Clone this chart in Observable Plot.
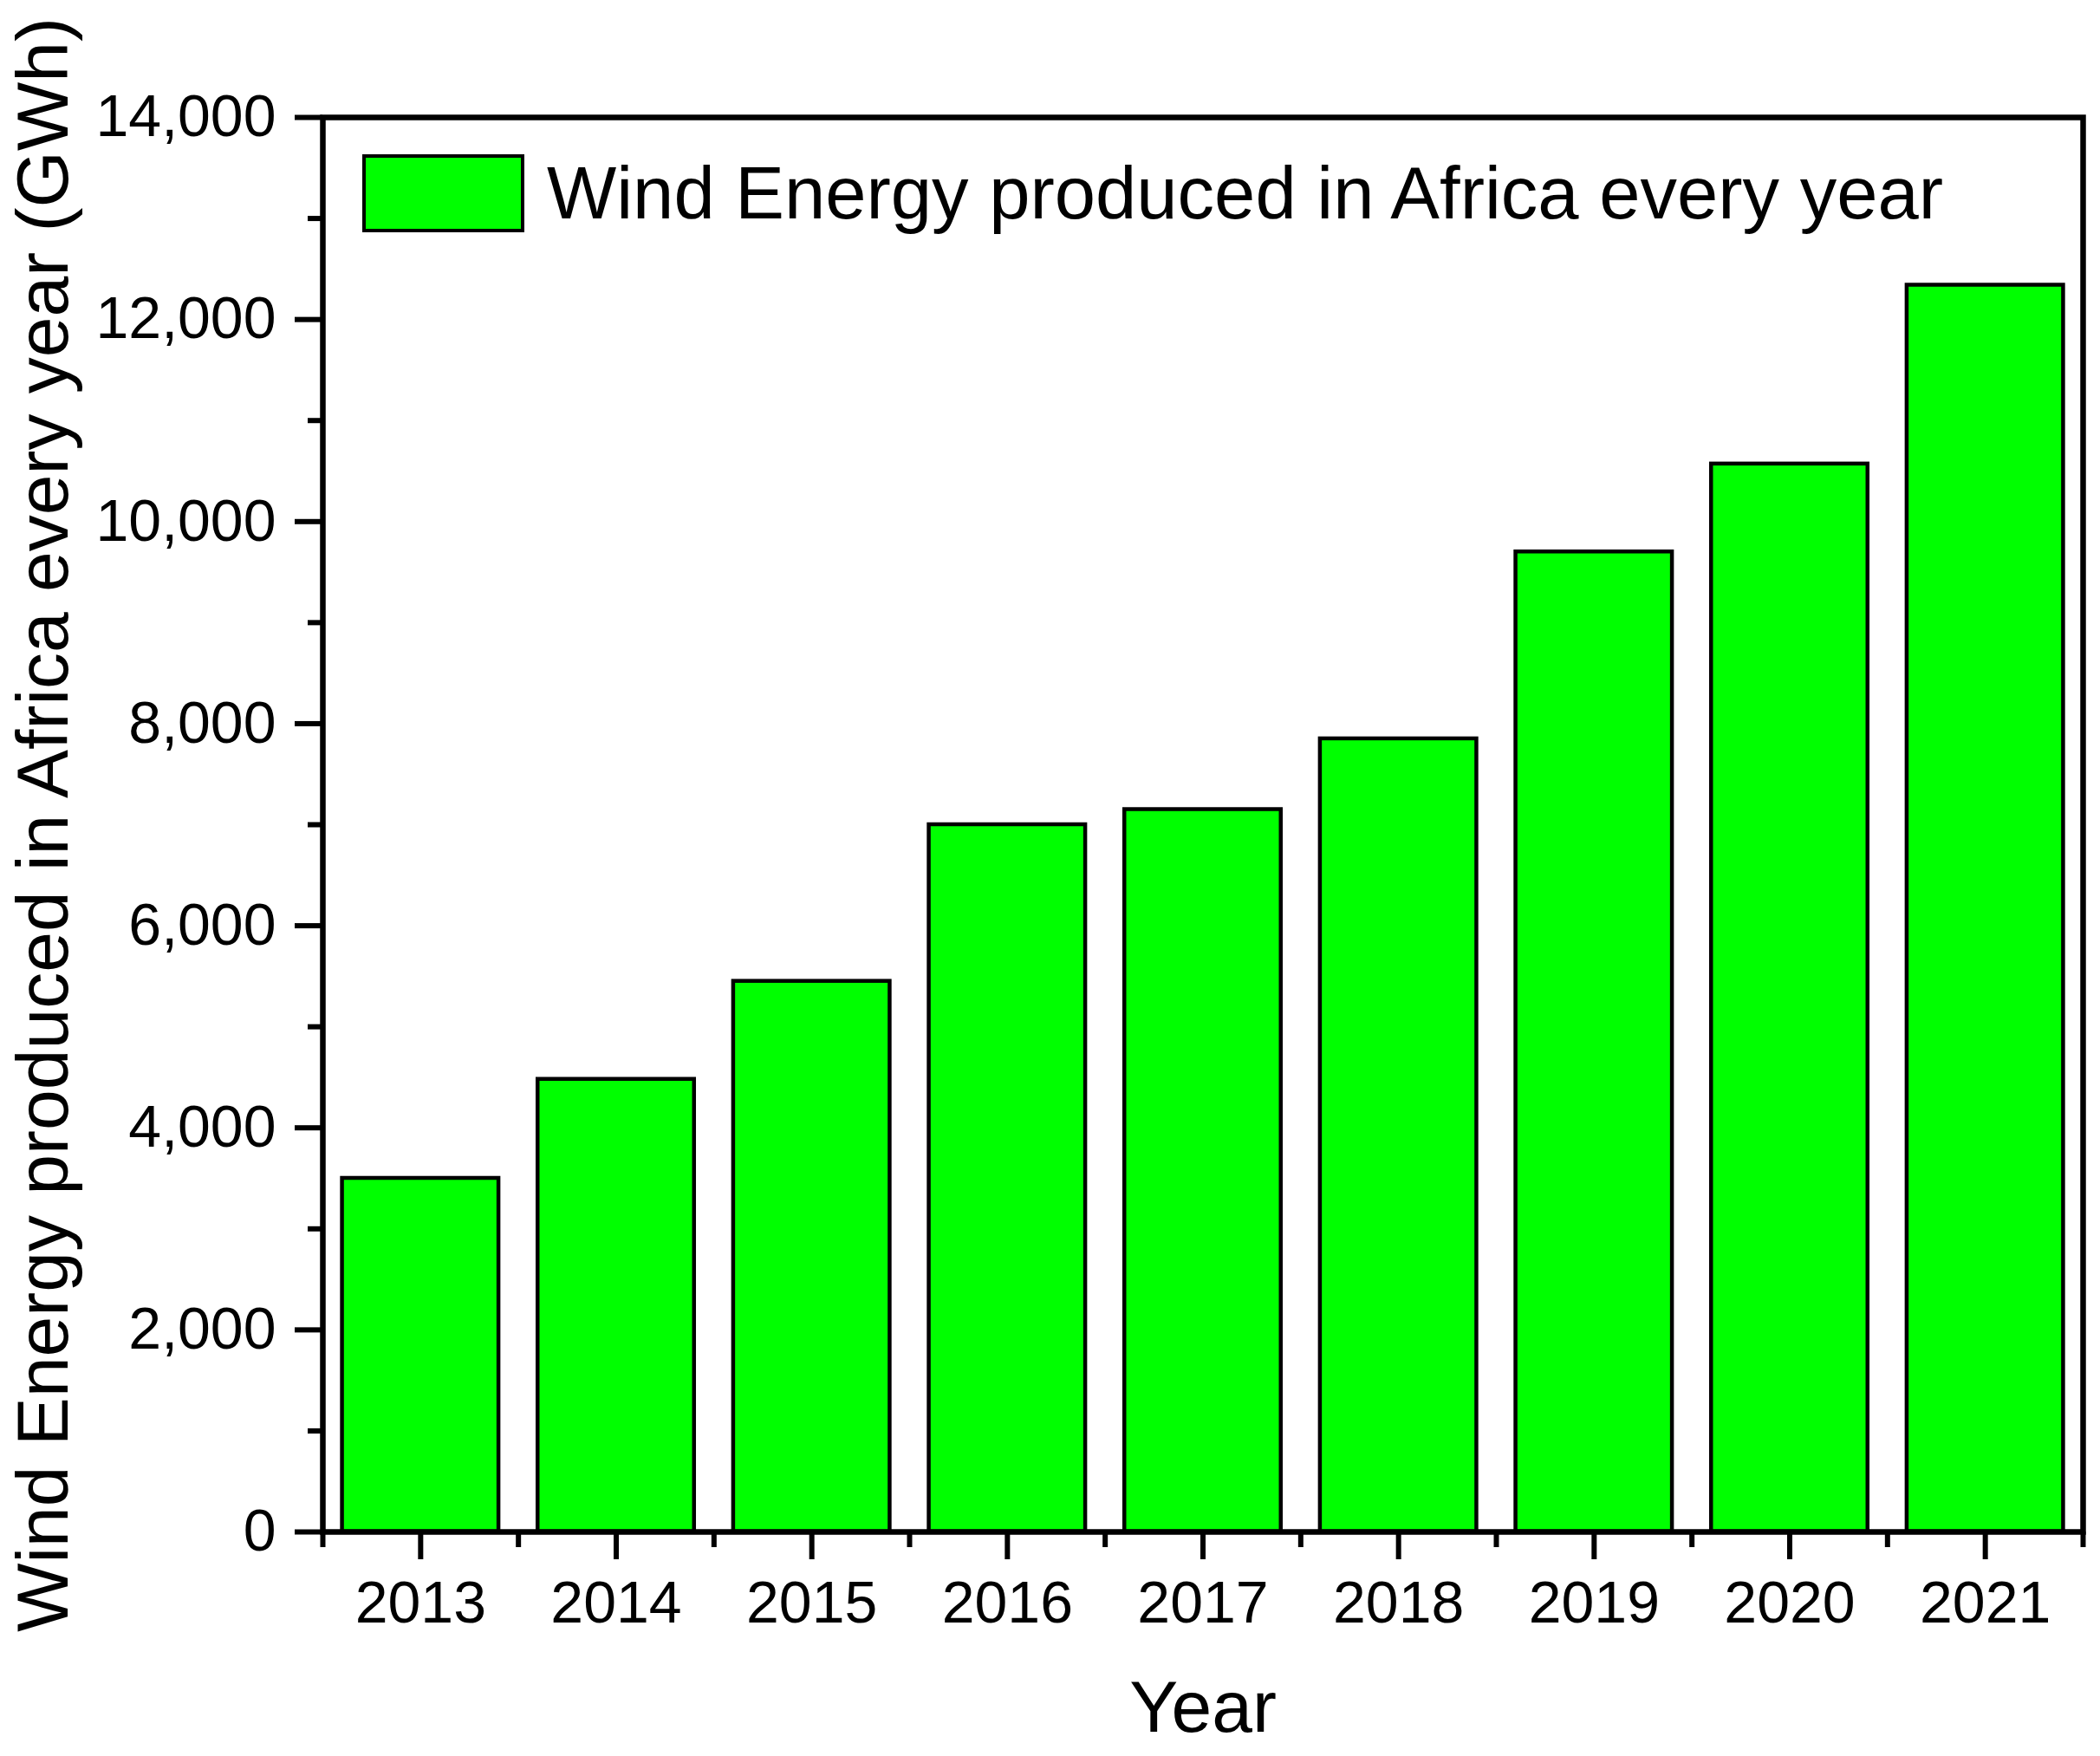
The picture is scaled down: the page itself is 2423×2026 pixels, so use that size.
<!DOCTYPE html>
<html><head><meta charset="utf-8">
<script src="https://cdn.jsdelivr.net/npm/d3@7"></script>
<script src="https://cdn.jsdelivr.net/npm/@observablehq/plot@0.6"></script>
<style>
html,body{margin:0;padding:0;background:#fff;}
#wrap{position:relative;width:2423px;height:2026px;font-family:"Liberation Sans",Arial,sans-serif;}
#legend{position:absolute;left:418px;top:178px;display:flex;align-items:center;height:90px;}
#legend .sw{box-sizing:border-box;width:187px;height:90px;background:#00ff00;border:4px solid #000;}
#legend .lb{margin-left:26px;font-size:85px;line-height:90px;color:#000;white-space:nowrap;}
</style></head><body><div id="wrap"></div>
<script>
const years = [2013, 2014, 2015, 2016, 2017, 2018, 2019, 2020, 2021];
const energy = [3500, 4480, 5450, 7000, 7150, 7850, 9700, 10570, 12340];
const yTicks = [0, 2000, 4000, 6000, 8000, 10000, 12000, 14000];
const yMinorTicks = [1000, 3000, 5000, 7000, 9000, 11000, 13000];
const xMinorTicks = [2012.5, 2013.5, 2014.5, 2015.5, 2016.5, 2017.5, 2018.5, 2019.5, 2020.5, 2021.5];
const legendLabel = "Wind Energy produced in Africa every year";
const xTitle = "Year";
const yTitle = "Wind Energy produced in Africa every year (GWh)";

const data = years.map((year, i) => ({year, value: energy[i]}));
const halfBar = 0.4;

const chart = Plot.plot({
  width: 2423, height: 2026,
  marginLeft: 372, marginRight: 20, marginTop: 135, marginBottom: 259,
  style: {fontFamily: "Liberation Sans, Arial, sans-serif", background: "white", color: "black"},
  x: {domain: [2012.5, 2021.5], axis: null},
  y: {domain: [0, 14000], axis: null},
  marks: [
    Plot.rectY(data, {x1: d => d.year - halfBar, x2: d => d.year + halfBar, y: "value", fill: "#00ff00", stroke: "black", strokeWidth: 4.5}),
    Plot.axisY(yTicks, {tickSize: 32, strokeWidth: 6, tickPadding: 22, fontSize: 68, tickFormat: d3.format(","), label: null}),
    Plot.axisY(yMinorTicks, {tickSize: 17, strokeWidth: 6, tickFormat: () => "", label: null}),
    Plot.axisX(years, {tickSize: 32, strokeWidth: 6, tickPadding: 24, fontSize: 68, tickFormat: d => String(d), label: null}),
    Plot.axisX(xMinorTicks, {tickSize: 18, strokeWidth: 6, tickFormat: () => "", label: null}),
    Plot.frame({stroke: "black", strokeWidth: 6.5}),
    Plot.text([yTitle], {frameAnchor: "left", dx: -321, rotate: -90, fontSize: 84, lineAnchor: "middle", textAnchor: "middle"}),
    Plot.text([xTitle], {frameAnchor: "bottom", dy: 204, fontSize: 84, lineAnchor: "middle", textAnchor: "middle"})
  ]
});
const wrap = document.getElementById("wrap");
wrap.appendChild(chart);
const legend = document.createElement("div");
legend.id = "legend";
legend.innerHTML = `<div class="sw"></div><div class="lb"></div>`;
legend.querySelector(".lb").textContent = legendLabel;
wrap.appendChild(legend);
</script></body></html>
